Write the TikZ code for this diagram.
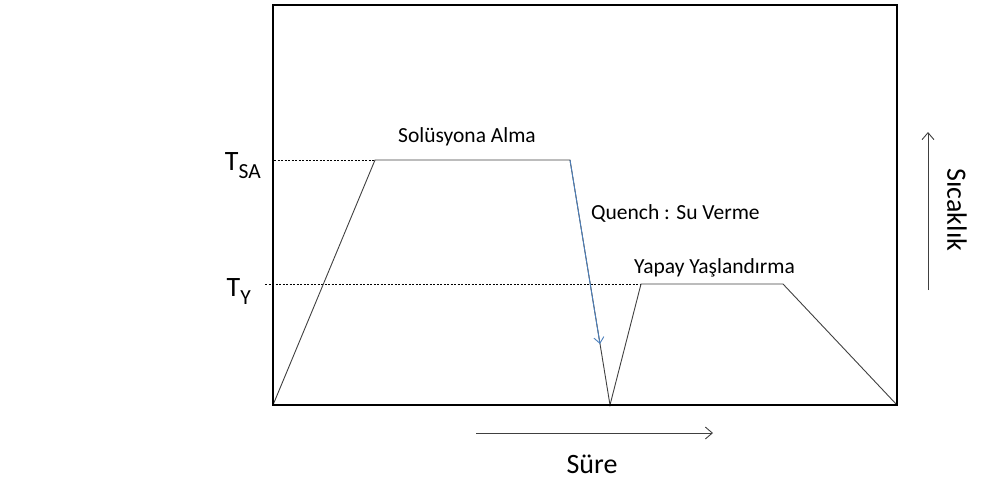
\documentclass[tikz,border=0pt]{standalone}
\usepackage{fontspec}
\setmainfont{Carlito}
\usetikzlibrary{arrows.meta}
\definecolor{cizgi}{HTML}{404040}
\definecolor{mavi}{HTML}{4A7EBB}
\begin{document}
\begin{tikzpicture}[x=1pt,y=-1pt,
  yazi/.style={font=\fontsize{21.5}{25}\selectfont,inner sep=0pt},
  buyuk/.style={font=\fontsize{28}{32}\selectfont,inner sep=0pt},
  egri/.style={cizgi,line width=0.9pt},
  kesik/.style={black,line width=0.9pt,dash pattern=on 2pt off 1.5pt},
  eksen/.style={cizgi,line width=0.9pt,-{Straight Barb[length=7pt,width=12pt]}}]
\useasboundingbox (0,0) rectangle (991,480);

% noktalar
\coordinate (A) at (273,405);
\coordinate (B) at (375,160);
\coordinate (C) at (570,160);
\coordinate (D) at (610,405);
\coordinate (E) at (641,284);
\coordinate (F) at (783,284);
\coordinate (G) at (897,405);
\coordinate (Q) at (600,344);

% yazilar
\node[yazi,anchor=base west] (SA) at (398,142) {Solüsyona Alma};
\node[yazi,anchor=base west] (QS) at (591,219) {Quench : Su Verme};
\node[yazi,anchor=base west] (YY) at (634,273) {Yapay Yaşlandırma};
\node[buyuk,anchor=base east] (TSA) at (261,170) {T\raisebox{-0.3em}{\fontsize{21.5}{25}\selectfont SA}};
\node[buyuk,anchor=base east] (TY) at (251,296) {T\raisebox{-0.3em}{\fontsize{21.5}{25}\selectfont Y}};
\node[buyuk] (S) at (592,464) {Süre};
\node[buyuk,rotate=-90] (SC) at (957,210) {Sıcaklık};

\draw[kesik] (274,160) -- (B) (265,284) -- (E);
\draw[egri] (A) -- (B) -- (C) -- (D) -- (E) -- (F) -- (G);
\draw[mavi,line width=0.9pt,-{Straight Barb[length=6pt,width=10pt]}] (C) -- (Q);
\draw[line width=2.8pt] (273,5) rectangle (897,405);

\draw[eksen] (476,433) -- (713,433);
\draw[eksen] (928,290) -- (928,132);
\end{tikzpicture}
\end{document}
